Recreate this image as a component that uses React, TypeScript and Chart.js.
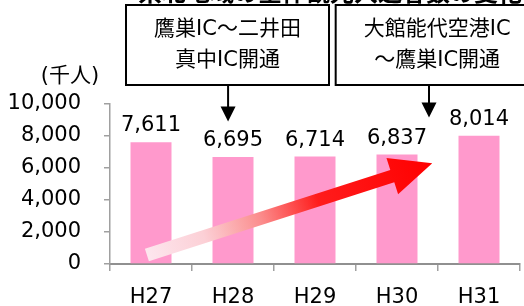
import React, { useEffect, useRef } from "react";
import { Chart, registerables } from "chart.js";

Chart.register(...registerables);

const categories = ["H27", "H28", "H29", "H30", "H31"];
const visitors = [7611, 6695, 6714, 6837, 8014];
const yTicks = [0, 2000, 4000, 6000, 8000, 10000];
const unitLabel = "(千人)";
const titleText = "県北地域の全体観光入込客数の変化";

// callouts: text lines, category index the arrow points at, value at arrow tip, box centre index
const calloutLines = [
  ["鷹巣IC～二井田", "真中IC開通"],
  ["大館能代空港IC", "～鷹巣IC開通"],
];
const calloutIndex = [0.94, 3.39];
const calloutTipValue = [8900, 9150];
const calloutBoxIndex = [0.933, 3.49];

// trend arrow: [category index, value]
const trendFrom = [-0.05, 560];
const trendTo = [3.43, 6300];

const FONT = "'DejaVu Sans', 'Noto Sans CJK JP', sans-serif";

function xAt(scale: any, idx: number) {
  const i0 = Math.floor(idx);
  const p0 = scale.getPixelForValue(i0);
  const p1 = scale.getPixelForValue(i0 + 1);
  return p0 + (p1 - p0) * (idx - i0);
}

const overlayPlugin = {
  id: "overlay",
  afterDatasetsDraw(chart: any) {
    const ctx = chart.ctx;
    const xs = chart.scales.x;
    const ys = chart.scales.y;
    const area = chart.chartArea;
    ctx.save();

    // data labels
    const meta = chart.getDatasetMeta(0);
    ctx.fillStyle = "#000";
    ctx.font = `21px ${FONT}`;
    ctx.textAlign = "center";
    ctx.textBaseline = "alphabetic";
    meta.data.forEach((bar: any, i: number) => {
      ctx.fillText(visitors[i].toLocaleString("en-US"), bar.x, bar.y - 11);
    });

    // trend arrow
    const sx = xAt(xs, trendFrom[0]);
    const sy = ys.getPixelForValue(trendFrom[1]);
    const tx = xAt(xs, trendTo[0]);
    const ty = ys.getPixelForValue(trendTo[1]);
    const dx = tx - sx;
    const dy = ty - sy;
    const len = Math.hypot(dx, dy);
    const ux = dx / len;
    const uy = dy / len;
    const nx = -uy;
    const ny = ux;
    const shaftW = 6.5;
    const headL = 42;
    const headW = 19;
    const bx = tx - ux * headL;
    const by = ty - uy * headL;
    const grad = ctx.createLinearGradient(sx, sy, tx, ty);
    grad.addColorStop(0, "#fde6ee");
    grad.addColorStop(0.2, "#fcd0d6");
    grad.addColorStop(0.4, "#fb8c8c");
    grad.addColorStop(0.6, "#ff1c1c");
    grad.addColorStop(1, "#ff0000");
    ctx.fillStyle = grad;
    ctx.beginPath();
    ctx.moveTo(sx + nx * shaftW, sy + ny * shaftW);
    ctx.lineTo(bx + nx * shaftW, by + ny * shaftW);
    ctx.lineTo(bx + nx * headW, by + ny * headW);
    ctx.lineTo(tx, ty);
    ctx.lineTo(bx - nx * headW, by - ny * headW);
    ctx.lineTo(bx - nx * shaftW, by - ny * shaftW);
    ctx.lineTo(sx - nx * shaftW, sy - ny * shaftW);
    ctx.closePath();
    ctx.fill();

    // title (cut off at top)
    ctx.fillStyle = "#000";
    ctx.font = `bold 24px ${FONT}`;
    ctx.textAlign = "center";
    ctx.textBaseline = "alphabetic";
    ctx.fillText(titleText, 330, 1);

    // unit label
    ctx.font = `21px ${FONT}`;
    ctx.textBaseline = "middle";
    ctx.fillText(unitLabel, area.left - 40, area.top - 27);

    // callouts
    const boxBottom = area.top - 19;
    const boxH = 80;
    const boxW = 203;
    calloutLines.forEach((lines, k) => {
      const cx = xAt(xs, calloutBoxIndex[k]);
      const ax = xAt(xs, calloutIndex[k]);
      const tipY = ys.getPixelForValue(calloutTipValue[k]);
      ctx.strokeStyle = "#000";
      ctx.lineWidth = 2;
      ctx.fillStyle = "#fff";
      ctx.fillRect(cx - boxW / 2, boxBottom - boxH, boxW, boxH);
      ctx.strokeRect(cx - boxW / 2, boxBottom - boxH, boxW, boxH);
      // arrow
      ctx.beginPath();
      ctx.moveTo(ax, boxBottom);
      ctx.lineTo(ax, tipY - 10);
      ctx.stroke();
      ctx.fillStyle = "#000";
      ctx.beginPath();
      ctx.moveTo(ax - 7.5, tipY - 15);
      ctx.lineTo(ax + 7.5, tipY - 15);
      ctx.lineTo(ax, tipY);
      ctx.closePath();
      ctx.fill();
      // text
      ctx.font = `21px ${FONT}`;
      ctx.textAlign = "center";
      ctx.textBaseline = "middle";
      const cy = boxBottom - boxH / 2;
      ctx.fillText(lines[0], cx, cy - 15.5);
      ctx.fillText(lines[1], cx, cy + 15.5);
    });

    ctx.restore();
  },
};

export default function App() {
  const ref = useRef<HTMLCanvasElement | null>(null);
  useEffect(() => {
    if (!ref.current) return;
    const chart = new Chart(ref.current, {
      type: "bar",
      data: {
        labels: categories,
        datasets: [
          {
            data: visitors,
            backgroundColor: "#ff99cc",
            borderWidth: 0,
            categoryPercentage: 1,
            barPercentage: 0.5,
          },
        ],
      },
      options: {
        responsive: false,
        animation: false,
        devicePixelRatio: 1,
        layout: { padding: { top: 104, right: 4, left: 0, bottom: 0 } },
        plugins: {
          legend: { display: false },
          tooltip: { enabled: false },
          title: { display: false },
        },
        scales: {
          x: {
            afterFit: (s: any) => {
              s.height = 42;
            },
            grid: {
              display: true,
              drawOnChartArea: false,
              offset: true,
              tickLength: 7,
              color: "#a0a0a0",
              lineWidth: 1.5,
            },
            border: { color: "#909090", width: 2 },
            ticks: {
              color: "#000",
              font: { family: FONT, size: 21 },
              padding: 14,
            },
          },
          y: {
            min: 0,
            max: 10000,
            afterFit: (s: any) => {
              s.width = 110;
            },
            afterBuildTicks: (s: any) => {
              s.ticks = yTicks.map((v) => ({ value: v }));
            },
            grid: {
              display: true,
              drawOnChartArea: false,
              tickLength: 6,
              color: "#a0a0a0",
              lineWidth: 1.5,
            },
            border: { color: "#a0a0a0", width: 1.5 },
            ticks: {
              color: "#000",
              font: { family: FONT, size: 21 },
              padding: 23,
              callback: (v: any) => Number(v).toLocaleString("en-US"),
            },
          },
        },
      },
      plugins: [overlayPlugin],
    });
    return () => chart.destroy();
  }, []);
  return (
    <div style={{ position: "absolute", left: 0, top: 0, width: 524, height: 306, background: "#fff" }}>
      <canvas ref={ref} width={524} height={306} style={{ width: 524, height: 306 }} />
    </div>
  );
}
